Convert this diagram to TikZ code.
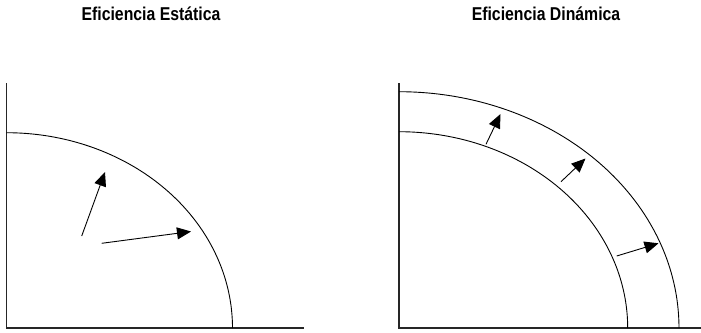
\documentclass[tikz,border=0pt]{standalone}
\usepackage{fontspec}
\setmainfont{Liberation Sans}[FakeStretch=0.85]
\usetikzlibrary{arrows.meta}
\begin{document}
\begin{tikzpicture}[x=1pt,y=-1pt,
  axis/.style={line width=1.1pt, draw=black!85},
  curve/.style={line width=0.9pt},
  vec/.style={line width=0.9pt, -{Triangle[length=14pt,width=12pt]}},
  title/.style={font=\bfseries\fontsize{18.6}{20}\selectfont, inner sep=0pt, anchor=base}]
\useasboundingbox (0,0) rectangle (701,332);
% titles
\node[title] (t1) at (151,20) {Eficiencia Estática};
\node[title] (t2) at (546,20) {Eficiencia Dinámica};
% left panel
\coordinate (o1) at (6.5,328);
\draw[axis] (6.5,83) -- (o1) -- (304,328);
\draw[curve] plot[domain=90:0, samples=80] ({6.5+226*cos(\x)}, {328-195.3*sin(\x)});
\coordinate (a1s) at (81.7,236);
\coordinate (a1e) at (105,172);
\coordinate (a2s) at (101.7,243.3);
\coordinate (a2e) at (191,231.5);
\draw[vec] (a1s) -- (a1e);
\draw[vec] (a2s) -- (a2e);
% right panel
\coordinate (o2) at (399,328);
\draw[axis] (399,83) -- (o2) -- (701,328);
\draw[curve] plot[domain=90:0, samples=80] ({399+228.7*cos(\x)}, {328-196.3*sin(\x)});
\draw[curve] plot[domain=90:0, samples=80] ({399+280*cos(\x)}, {328-236.3*sin(\x)});
\coordinate (b1s) at (486,144.3);
\coordinate (b1e) at (500.5,114);
\coordinate (b2s) at (561,181.7);
\coordinate (b2e) at (585.5,158.5);
\coordinate (b3s) at (616.7,256);
\coordinate (b3e) at (658.5,243.3);
\draw[vec] (b1s) -- (b1e);
\draw[vec] (b2s) -- (b2e);
\draw[vec] (b3s) -- (b3e);
\end{tikzpicture}
\end{document}
